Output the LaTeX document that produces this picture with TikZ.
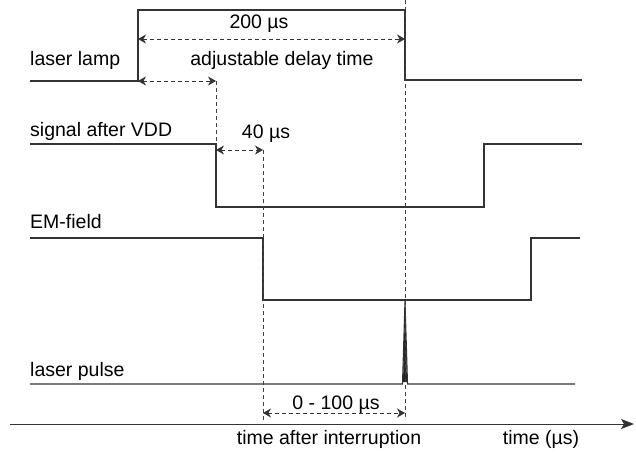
\documentclass[tikz,border=0pt]{standalone}
\usepackage{fontspec}
\setmainfont{Liberation Sans}
\usetikzlibrary{arrows.meta}
\begin{document}
\begin{tikzpicture}[x=1pt,y=-1pt,
  sig/.style={draw=black!80,line width=1.1pt},
  guide/.style={draw=black!75,dashed,dash pattern=on 4pt off 3pt,line width=0.7pt},
  dim/.style={draw=black!80,dashed,dash pattern=on 4pt off 3pt,line width=0.8pt,{Stealth[length=8pt,width=9pt,inset=2.5pt]}-{Stealth[length=8pt,width=9pt,inset=2.5pt]}},
  lbl/.style={inner sep=0pt,font=\fontsize{19.5}{22}\selectfont},
  every node/.style={lbl}]
\useasboundingbox (0,0) rectangle (636,452);
% coordinates
\coordinate (lampA) at (30,81);
\coordinate (lampB) at (138,81);
\coordinate (lampC) at (138,10);
\coordinate (lampD) at (405,10);
\coordinate (lampE) at (405,80);
\coordinate (lampF) at (582,80);
\draw[sig] (lampA) -- (lampB) -- (lampC) -- (lampD) -- (lampE) -- (lampF);
\coordinate (sigA) at (30,144);
\coordinate (sigB) at (216,144);
\coordinate (sigC) at (216,207);
\coordinate (sigD) at (484,207);
\coordinate (sigE) at (484,144);
\coordinate (sigF) at (582,144);
\draw[sig] (sigA) -- (sigB) -- (sigC) -- (sigD) -- (sigE) -- (sigF);
\coordinate (emA) at (30,238);
\coordinate (emB) at (263,238);
\coordinate (emC) at (263,300);
\coordinate (emD) at (531,300);
\coordinate (emE) at (531,238);
\coordinate (emF) at (580,238);
\draw[sig] (emA) -- (emB) -- (emC) -- (emD) -- (emE) -- (emF);
\coordinate (puA) at (30,384);
\coordinate (puB) at (402.5,384);
\coordinate (puC) at (405,301);
\coordinate (puD) at (407.5,384);
\coordinate (puE) at (575,384);
\draw[sig,line join=miter] (puA) -- (puB) -- (puC) -- (puD) -- (puE);
\fill[black!85] (403,382) -- (405,305) -- (407,382) -- cycle;
% guides
\coordinate (g1t) at (405,0);
\coordinate (g1b) at (405,420);
\coordinate (g2t) at (216,81);
\coordinate (g2b) at (216,144);
\coordinate (g3t) at (263,150);
\coordinate (g3b) at (263,420);
\draw[guide] (g1t) -- (g1b);
\draw[guide] (g2t) -- (g2b);
\draw[guide] (g3t) -- (g3b);
% dimension arrows
\coordinate (d1a) at (138,39);
\coordinate (d1b) at (405,39);
\draw[dim] (d1a) -- (d1b);
\coordinate (d2a) at (138,81);
\coordinate (d2b) at (216,81);
\draw[dim] (d2a) -- (d2b);
\coordinate (d3a) at (216,150);
\coordinate (d3b) at (263,150);
\draw[dim] (d3a) -- (d3b);
\coordinate (d4a) at (263,413);
\coordinate (d4b) at (405,413);
\draw[dim] (d4a) -- (d4b);
% axis
\coordinate (axA) at (10,424);
\coordinate (axB) at (634,424);
\draw[draw=black!80,line width=1pt,-{Stealth[length=13pt,width=10pt,inset=3pt]}] (axA) -- (axB);
% labels
\node[anchor=base] (t200) at (259,29) {200 µs};
\node[anchor=base] (tdelay) at (282,66) {adjustable delay time};
\node[anchor=base] (t40) at (266,138) {40 µs};
\node[anchor=base] (t100) at (336,409) {0 - 100 µs};
\node[anchor=base] (tafter) at (329,444) {time after interruption};
\node[anchor=base] (ttime) at (541,444) {time (µs)};
\node[anchor=base west] (llamp) at (30,66) {laser lamp};
\node[anchor=base west] (lsig) at (30,136) {signal after VDD};
\node[anchor=base west] (lem) at (30,228) {EM-field};
\node[anchor=base west] (lpulse) at (30,376) {laser pulse};
\end{tikzpicture}
\end{document}
